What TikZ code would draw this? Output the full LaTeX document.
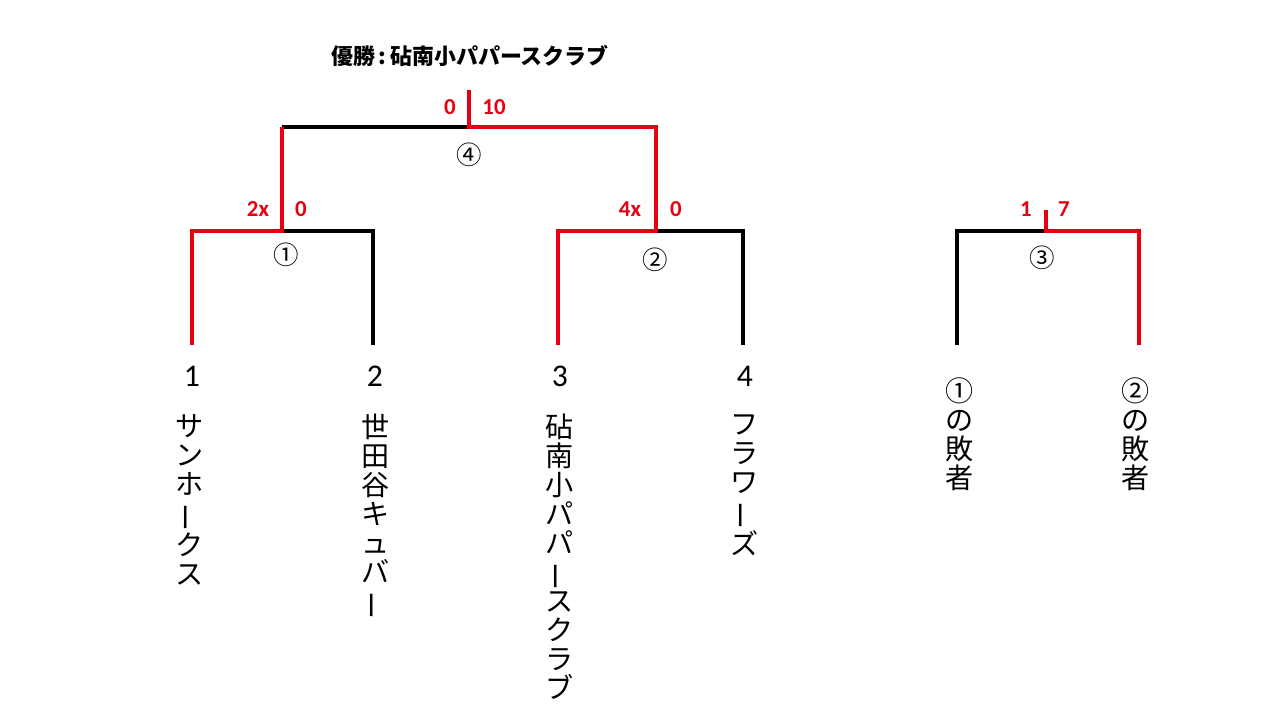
\documentclass[tikz,border=0pt]{standalone}
\usepackage{fontspec}
\usepackage{graphicx}
\setmainfont{Carlito}
\newfontfamily\jpfont{Noto Sans CJK JP}
\definecolor{winred}{RGB}{232,0,16}
% long vowel mark set upright for vertical names
\newcommand{\cho}{\rotatebox[origin=c]{90}{ー}}

\begin{document}
\begin{tikzpicture}[x=0.02cm,y=-0.02cm,
  bracket/.style={line width=2.3pt},
  win/.style={bracket, draw=winred},
  score/.style={text=winred, font=\bfseries\fontsize{13}{13}\selectfont, inner sep=0pt},
  seed/.style={font=\fontsize{18}{18}\selectfont, inner sep=0pt},
  team/.style={font=\jpfont\fontsize{16}{16.5}\selectfont, align=center, anchor=north, inner sep=0pt},
  matchno/.style={font=\jpfont\fontsize{14.5}{14.5}\selectfont, inner sep=0pt}]
\useasboundingbox (0,0) rectangle (1280,720);

% bracket corners
\coordinate (a1) at (192,345);
\coordinate (a2) at (373,345);
\coordinate (a3) at (558,345);
\coordinate (a4) at (743,345);
\coordinate (b1) at (957,345);
\coordinate (b2) at (1139,345);
\coordinate (m1) at (282,231);
\coordinate (m2) at (656,231);
\coordinate (m3) at (1046,231);
\coordinate (f1) at (282,127);
\coordinate (f2) at (656,127);
\coordinate (m4) at (469,127);
\coordinate (top4) at (469,90);
\coordinate (top3) at (1046,210);

% black brackets
\draw[bracket] (a1) |- (m1) -| (a2);
\draw[bracket] (a3) |- (m2) -| (a4);
\draw[bracket] (b1) |- (m3) -| (b2);
\draw[bracket] (f1) -- (f2);

% winners
\draw[win] (a1) |- (m1) -- (f1);
\draw[win] (a3) |- (m2) -- (f2) -- (m4) -- (top4);
\draw[win] (top3) -- (m3) -| (b2);

% scores
\node[score] (sc1a) at (258,209) {2x};
\node[score] (sc1b) at (301,209) {0};
\node[score] (sc2a) at (630,209) {4x};
\node[score] (sc2b) at (676,209) {0};
\node[score] (sc4a) at (450,107) {0};
\node[score] (sc4b) at (494,107) {10};
\node[score] (sc3a) at (1026,209) {1};
\node[score] (sc3b) at (1064,209) {7};

% match numbers
\node[matchno] (n1) at (286,255) {①};
\node[matchno] (n2) at (655,260) {②};
\node[matchno] (n3) at (1042,258) {③};
\node[matchno] (n4) at (469,155) {④};

% champion
\node[font=\jpfont\bfseries\fontsize{12.5}{12.5}\selectfont, inner sep=0pt] (champ) at (470,56) {優勝\,:\,砧南小パパースクラブ};

% seeds
\node[seed] (s1) at (192,376) {1};
\node[seed] (s2) at (375,376) {2};
\node[seed] (s3) at (560,376) {3};
\node[seed] (s4) at (745,376) {4};

% team names
\node[team] (t1) at (190,414) {サ\\ン\\ホ\\\cho\\ク\\ス};
\node[team] (t2) at (376,414) {世\\田\\谷\\キ\\ュ\\バ\\\cho};
\node[team] (t3) at (560,414) {砧\\南\\小\\パ\\パ\\\cho\\ス\\ク\\ラ\\ブ};
\node[team] (t4) at (745,414) {フ\\ラ\\ワ\\\cho\\ズ};
\node[team] (l1) at (960,377) {①\\の\\敗\\者};
\node[team] (l2) at (1136,377) {②\\の\\敗\\者};
\end{tikzpicture}
\end{document}
